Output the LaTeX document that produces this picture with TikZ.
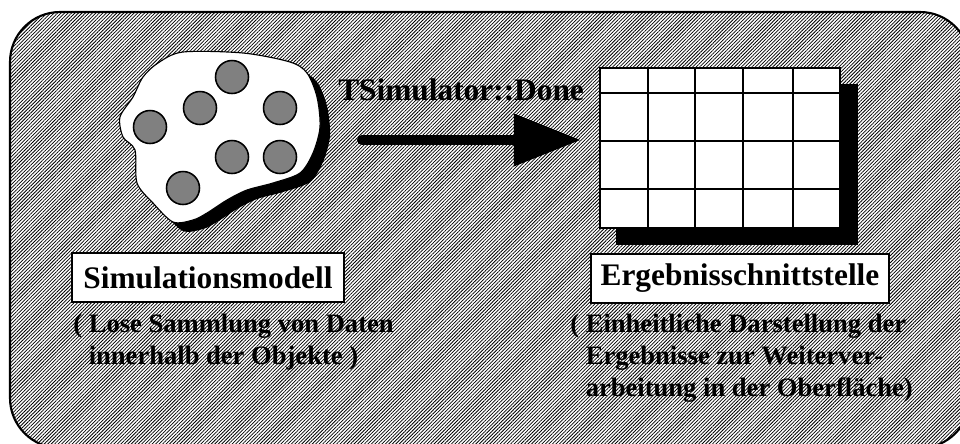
\documentclass[tikz,border=0pt]{standalone}
\usepackage{fontspec}
\setmainfont{Liberation Serif}
\usepackage{tikz}
\usetikzlibrary{patterns.meta,arrows.meta}

\newcommand{\blobpath}{plot[smooth cycle, tension=0.5] coordinates {(183,52) (243,53) (290,62) (307,73) (317,97) (320,127) (313,153) (300,173) (273,183) (247,190) (227,200) (207,213) (193,220) (173,222) (153,203) (137,183) (135,150) (123,137) (120,117) (133,97) (143,77) (158,63)}}

\tikzset{
	hatch/.style={pattern={Lines[angle=45, distance=1.75pt, line width=0.55pt]}},
	labelbox/.style={draw=black, line width=1.1pt, fill=white, font=\fontsize{22.3}{26}\selectfont\bfseries, minimum height=1.225cm, inner sep=0pt},
	remark/.style={font=\fontsize{18.9}{22.8}\selectfont\bfseries, align=left, inner sep=0pt, anchor=north west},
	ball/.style={draw=black, line width=1.1pt, fill=gray}
}

\begin{document}
\begin{tikzpicture}[x=0.025cm, y=-0.025cm]
	
	\useasboundingbox (0,0) rectangle (960,443);
	\clip (0,0) rectangle (960,443);
	\draw[black, line width=1.5pt, rounded corners=1.25cm, preaction={fill=white}, hatch](10,12) rectangle (970,448);
	
	\fill[black, shift={(10,9)}] \blobpath;
	\draw[black, line width=0.8pt, fill=white] \blobpath;
	\foreach \p in {(232,77),(200,108),(280,108),(150,127),(232,157),(280,157),(183,188)}
		\draw[ball] \p circle[radius=16.5];
	
	\fill[black](616,84) rectangle (858,245);
	\draw[black, line width=1.1pt, fill=white](600,68) rectangle (840,228);
	\foreach \x in {648,695,743,793}
		\draw[black, line width=1.1pt](\x,68)--(\x,228);
	\foreach \y in {93,141,189}
		\draw[black, line width=1.1pt](600,\y)--(840,\y);
	
	\coordinate (tail) at (362,140);
	\coordinate (head) at (581,140);
	\draw[black, line width=0.25cm, line cap=round, -{Triangle[length=1.675cm, width=1.25cm]}](tail)--(head);
	\node[font=\fontsize{22.3}{26}\selectfont\bfseries, anchor=base west, inner sep=0pt] (done) at (338,100){TSimulator::Done};
	
	\node[labelbox, minimum width=6.8cm] (modell) at (208,277.5){Simulationsmodell};
	\node[labelbox, minimum width=7.45cm] (schnitt) at (740,278.5){Ergebnisschnittstelle};
	\node[remark] (modelltext) at (73,314){( Lose Sammlung von Daten\\\phantom{( }innerhalb der Objekte )};
	\node[remark] (schnitttext) at (570,314){( Einheitliche Darstellung der\\\phantom{( }Ergebnisse zur Weiterver-\\\phantom{( }arbeitung in der Oberfläche)};
	\end{tikzpicture}
\end{document}
